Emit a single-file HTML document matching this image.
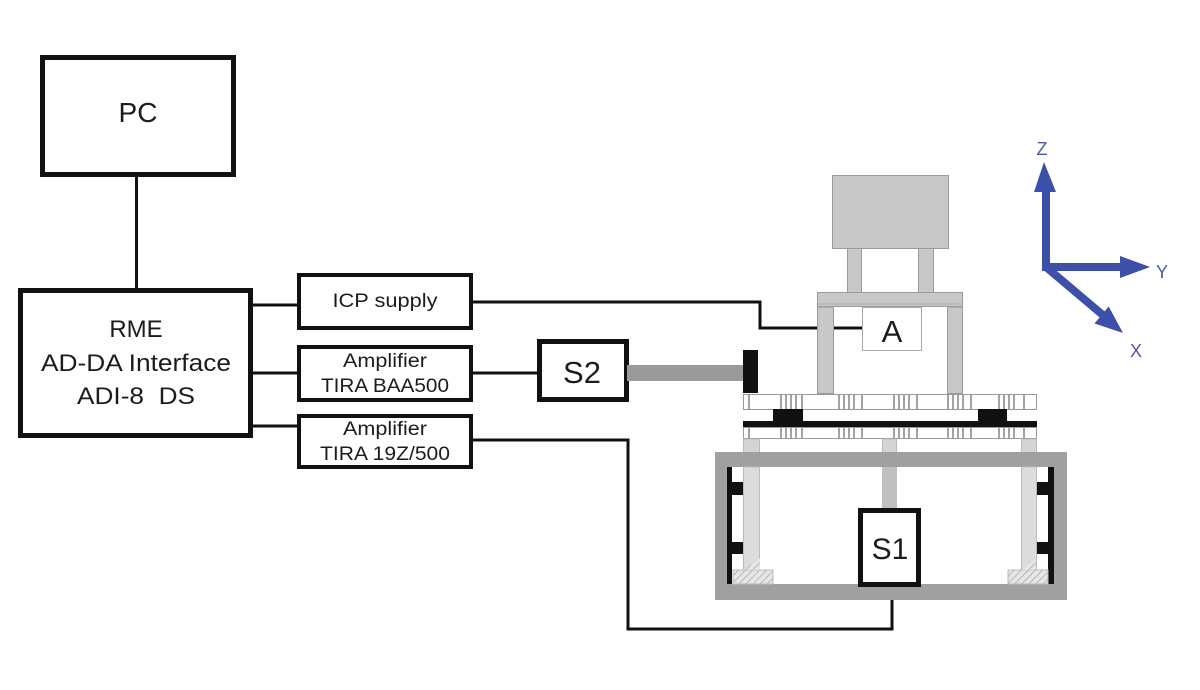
<!DOCTYPE html>
<html>
<head>
<meta charset="utf-8">
<style>
  html,body{margin:0;padding:0;background:#fff;}
  svg{display:block;}
  text{font-family:"Liberation Sans", Arial, sans-serif;fill:#1c1c1c;}
</style>
</head>
<body>
<svg width="1200" height="690" viewBox="0 0 1200 690" xmlns="http://www.w3.org/2000/svg">
  <rect width="1200" height="690" fill="#fff"/>

  <!-- Connectors -->
  <g stroke="#111" stroke-width="3" fill="none">
    <line x1="136.5" y1="176" x2="136.5" y2="290"/>
    <line x1="252" y1="305" x2="299" y2="305"/>
    <line x1="252" y1="373" x2="299" y2="373"/>
    <line x1="252" y1="426" x2="299" y2="426"/>
    <polyline points="471,302 760,302 760,328 863,328"/>
    <line x1="472" y1="373" x2="539" y2="373"/>
    <polyline points="471,440 628,440 628,629 892,629 892,586"/>
  </g>

  <!-- Boxes -->
  <g fill="#fff" stroke="#111">
    <rect x="42.5" y="57.5" width="191" height="117" stroke-width="5"/>
    <rect x="20.5" y="290.5" width="230" height="145" stroke-width="5"/>
    <rect x="299" y="275" width="172" height="53" stroke-width="4"/>
    <rect x="299" y="347" width="172" height="53" stroke-width="4"/>
    <rect x="299" y="416" width="172" height="51" stroke-width="4"/>
    <rect x="539.5" y="341.5" width="87" height="58" stroke-width="5"/>
  </g>

  <!-- Text in boxes -->
  <text x="138" y="122" font-size="28" text-anchor="middle">PC</text>
  <text x="136" y="337" font-size="24" text-anchor="middle">RME</text>
  <text x="136" y="371" font-size="24" text-anchor="middle" textLength="190" lengthAdjust="spacingAndGlyphs">AD-DA Interface</text>
  <text x="136" y="404" font-size="24" text-anchor="middle" textLength="118" lengthAdjust="spacingAndGlyphs" xml:space="preserve">ADI-8  DS</text>
  <text x="385" y="307" font-size="19" text-anchor="middle" textLength="105" lengthAdjust="spacingAndGlyphs">ICP supply</text>
  <text x="385" y="367" font-size="19" text-anchor="middle" textLength="84" lengthAdjust="spacingAndGlyphs">Amplifier</text>
  <text x="385" y="392" font-size="19" text-anchor="middle" textLength="128" lengthAdjust="spacingAndGlyphs">TIRA BAA500</text>
  <text x="385" y="435" font-size="19" text-anchor="middle" textLength="84" lengthAdjust="spacingAndGlyphs">Amplifier</text>
  <text x="385" y="460" font-size="19" text-anchor="middle" textLength="130" lengthAdjust="spacingAndGlyphs">TIRA 19Z/500</text>
  <text x="582" y="383" font-size="31" text-anchor="middle">S2</text>

  <!-- S2 rod and plate -->
  <rect x="627" y="365" width="116" height="16" fill="#9a9a9a"/>
  <rect x="743" y="350" width="15" height="43" fill="#111"/>

  <!-- Chair / upper structure -->
  <g fill="#c8c8c8" stroke="#9a9a9a" stroke-width="1">
    <rect x="847.5" y="248.5" width="14" height="44"/>
    <rect x="918.5" y="248.5" width="15" height="44"/>
    <rect x="832.5" y="175.5" width="116" height="73"/>
    <rect x="817.5" y="307" width="16" height="86.5"/>
    <rect x="947.5" y="307" width="15" height="86.5"/>
    <rect x="817.5" y="292.5" width="145" height="14"/>
  </g>
  <line x1="818" y1="304" x2="962" y2="304" stroke="#aaa" stroke-width="1"/>

  <!-- A box -->
  <rect x="862.5" y="307.5" width="59" height="43" fill="#fff" stroke="#aaa" stroke-width="1"/>
  <text x="892" y="342" font-size="31" text-anchor="middle">A</text>

  <!-- Plates -->
  <g fill="#fff" stroke="#999" stroke-width="1">
    <rect x="743.5" y="394.5" width="293" height="15"/>
    <rect x="743.5" y="427.5" width="293" height="11"/>
  </g>
  <g stroke="#666" stroke-width="1.2">
    <!-- upper plate hatch -->
    <path d="M749 395v14 M781 395v14 M786 395v14 M791 395v14 M796 395v14 M802 395v14
             M839 395v14 M844 395v14 M849 395v14 M854 395v14 M862 395v14
             M894 395v14 M899 395v14 M904 395v14 M909 395v14 M917 395v14
             M948 395v14 M953 395v14 M958 395v14 M963 395v14 M971 395v14
             M999 395v14 M1004 395v14 M1009 395v14 M1014 395v14 M1024 395v14"/>
    <!-- lower plate hatch -->
    <path d="M749 428v10 M781 428v10 M786 428v10 M791 428v10 M796 428v10 M802 428v10
             M839 428v10 M844 428v10 M849 428v10 M854 428v10 M862 428v10
             M894 428v10 M899 428v10 M904 428v10 M909 428v10 M917 428v10
             M948 428v10 M953 428v10 M958 428v10 M963 428v10 M971 428v10
             M999 428v10 M1004 428v10 M1009 428v10 M1014 428v10 M1024 428v10"/>
  </g>
  <rect x="773" y="409" width="30" height="13" fill="#111"/>
  <rect x="978" y="409" width="29" height="13" fill="#111"/>
  <rect x="743" y="421" width="294" height="6" fill="#111"/>

  <!-- Supports -->
  <g fill="#d4d4d4" stroke="#bbb" stroke-width="1">
    <rect x="743.5" y="439" width="16" height="14"/>
    <rect x="882.5" y="439" width="14" height="14"/>
    <rect x="1021.5" y="439" width="15" height="14"/>
  </g>

  <!-- Base frame -->
  <g fill="#a0a0a0">
    <rect x="715" y="452" width="352" height="15"/>
    <rect x="715" y="584" width="352" height="16"/>
    <rect x="715" y="467" width="12" height="117"/>
    <rect x="1054" y="467" width="13" height="117"/>
  </g>

  <!-- inner posts -->
  <g fill="#dcdcdc" stroke="#bbb" stroke-width="1">
    <rect x="743.5" y="467" width="16" height="103"/>
    <rect x="1021.5" y="467" width="15" height="103"/>
  </g>
  <rect x="882" y="467" width="15" height="43" fill="#c0c0c0"/>

  <!-- black inner walls and tabs -->
  <g fill="#111">
    <rect x="727" y="467" width="5" height="117"/>
    <rect x="732" y="482" width="11" height="13"/>
    <rect x="732" y="542" width="11" height="12"/>
    <rect x="1048" y="467" width="6" height="117"/>
    <rect x="1037" y="482" width="11" height="13"/>
    <rect x="1037" y="542" width="11" height="12"/>
  </g>

  <!-- hatched feet -->
  <defs>
    <pattern id="hatch" width="5" height="5" patternUnits="userSpaceOnUse" patternTransform="rotate(45)">
      <rect width="5" height="5" fill="#e6e6e6"/>
      <line x1="0" y1="0" x2="0" y2="5" stroke="#999" stroke-width="1.2"/>
    </pattern>
  </defs>
  <rect x="733" y="570" width="40" height="14" fill="url(#hatch)" stroke="#bbb" stroke-width="1"/>
  <polygon points="744,570 760,558 760,570" fill="url(#hatch)"/>
  <rect x="1008" y="570" width="40" height="14" fill="url(#hatch)" stroke="#bbb" stroke-width="1"/>
  <polygon points="1022,570 1036,558 1036,570" fill="url(#hatch)"/>

  <!-- S1 -->
  <rect x="860.5" y="510.5" width="58" height="74" fill="#fff" stroke="#111" stroke-width="5"/>
  <text x="890" y="559" font-size="30" text-anchor="middle">S1</text>

  <!-- Axes -->
  <g fill="#3c50aa" stroke="#3c50aa">
    <line x1="1046" y1="271" x2="1046" y2="188" stroke-width="8"/>
    <polygon points="1034,192 1044,162 1056,192" stroke="none"/>
    <line x1="1042" y1="267" x2="1124" y2="267" stroke-width="8"/>
    <polygon points="1120,256 1150,267 1120,278" stroke="none"/>
    <line x1="1046" y1="267" x2="1104" y2="316" stroke-width="8"/>
    <polygon points="1094.5,323.5 1123,333 1108.7,306.5" stroke="none"/>
  </g>
  <g font-size="18" text-anchor="middle">
    <text x="1042" y="155" style="fill:#4a5aa8">Z</text>
    <text x="1162" y="278" style="fill:#4a5aa8">Y</text>
    <text x="1136" y="357" style="fill:#4a5aa8">X</text>
  </g>
</svg>
</body>
</html>
